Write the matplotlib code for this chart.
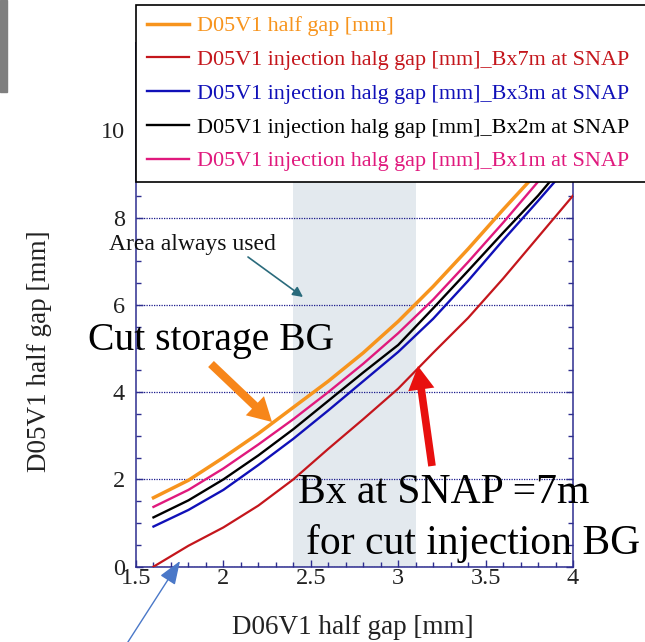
import matplotlib
matplotlib.use("Agg")
import matplotlib.pyplot as plt
from matplotlib.ticker import MultipleLocator, FixedLocator
from matplotlib.patches import Rectangle

# ---- data ----
x_gap = [1.6, 1.8, 2.0, 2.2, 2.4, 2.6, 2.8, 3.0, 3.2, 3.4, 3.6, 3.8, 4.0]
half_gap = [1.58, 1.98, 2.50, 3.05, 3.65, 4.25, 4.90, 5.62, 6.42, 7.28, 8.18, 9.05, 10.00]
inj_bx7 = [0.00, 0.48, 0.90, 1.40, 2.00, 2.70, 3.38, 4.08, 4.90, 5.70, 6.60, 7.55, 8.50]
inj_bx3 = [0.92, 1.30, 1.76, 2.33, 2.93, 3.58, 4.25, 4.92, 5.68, 6.55, 7.48, 8.38, 9.30]
inj_bx2 = [1.13, 1.52, 2.00, 2.55, 3.15, 3.80, 4.45, 5.08, 5.92, 6.78, 7.65, 8.50, 9.45]
inj_bx1 = [1.37, 1.76, 2.25, 2.80, 3.38, 4.00, 4.65, 5.35, 6.12, 6.98, 7.88, 8.82, 9.78]
area_used = [2.4, 3.1]
x_ticks = [1.5, 2.0, 2.5, 3.0, 3.5, 4.0]
x_tick_labels = ["1.5", "2", "2.5", "3", "3.5", "4"]
y_ticks = [0, 2, 4, 6, 8, 10]
labels = ["D05V1 half gap [mm]",
          "D05V1 injection halg gap [mm]_Bx7m at SNAP",
          "D05V1 injection halg gap [mm]_Bx3m at SNAP",
          "D05V1 injection halg gap [mm]_Bx2m at SNAP",
          "D05V1 injection halg gap [mm]_Bx1m at SNAP"]

W, H = 645, 642
SERIF = ["Liberation Serif", "DejaVu Serif"]
plt.rcParams['font.family'] = SERIF

def fp(x, y):
    return (x / W, 1 - y / H)

fig = plt.figure(figsize=(W / 100, H / 100), dpi=100)
ax_left, ax_right = 136 / W, 573 / W
y0_px, per_unit = 566.7, 43.65
ylim_top = 12.0
top_px = y0_px - ylim_top * per_unit
ax = fig.add_axes([ax_left, 1 - y0_px / H, ax_right - ax_left, (y0_px - top_px) / H])

navy = "#2e2e8f"
ax.axvspan(area_used[0], area_used[1], color="#e3e9ee", zorder=0, lw=0)

ax.plot(x_gap, inj_bx7, color="#c4161c", lw=1.6, label=labels[1], zorder=3)
ax.plot(x_gap, inj_bx3, color="#1010b8", lw=1.7, label=labels[2], zorder=3)
ax.plot(x_gap, inj_bx2, color="#000000", lw=1.7, label=labels[3], zorder=3)
ax.plot(x_gap, inj_bx1, color="#e0197d", lw=1.7, label=labels[4], zorder=3)
ax.plot(x_gap, half_gap, color="#f7941d", lw=2.5, label=labels[0], zorder=3)

ax.set_xlim(1.5, 4.0)
ax.set_ylim(0, ylim_top)
ax.xaxis.set_major_locator(FixedLocator(x_ticks))
ax.set_xticklabels(x_tick_labels)
ax.xaxis.set_minor_locator(MultipleLocator(0.1))
ax.yaxis.set_major_locator(FixedLocator(y_ticks))
ax.yaxis.set_minor_locator(MultipleLocator(0.5))
ax.tick_params(which="both", direction="in", color=navy, top=True, right=True, width=1)
ax.tick_params(which="major", length=5, labelsize=17.5, labelcolor="#222222")
ax.tick_params(which="minor", length=3.5)
ax.tick_params(axis="x", pad=1)
ax.tick_params(axis="y", pad=8)
for s in ax.spines.values():
    s.set_color(navy)
    s.set_linewidth(1.1)
ax.yaxis.grid(True, which="major", linestyle=(0, (1, 1)), color="#1a1a8c", lw=0.9)
ax.set_axisbelow(False)

fig.text(*fp(353, 628), "D06V1 half gap [mm]", ha="center", va="center", fontsize=19.5, color="#222222")
fig.text(*fp(40, 351), "D05V1 half gap [mm]", ha="center", va="center", rotation=90, fontsize=19.5, color="#222222")

# legend
handles, labs = ax.get_legend_handles_labels()
order = [4, 0, 1, 2, 3]
leg = fig.legend([handles[i] for i in order], [labs[i] for i in order],
                 loc="upper left", bbox_to_anchor=(136 / W, 1 - 178 / H, 1.0, 173 / H),
                 mode="expand", borderaxespad=0, prop=dict(family=SERIF, size=15.9),
                 labelcolor="linecolor",
                 frameon=True, fancybox=False, edgecolor="black", framealpha=1,
                 handlelength=1.9, handletextpad=0.36, borderpad=0.5, labelspacing=0.6)
leg.get_frame().set_linewidth(1.2)
leg.set_zorder(10)

# gray bar top-left
fig.patches.append(Rectangle(fp(0, 92), 7 / W, 92 / H, transform=fig.transFigure,
                             color="#7f7f7f", zorder=11))

# annotations
fig.text(*fp(109, 250), "Area always used", ha="left", va="baseline", fontsize=17, color="#111111", zorder=12)
ax.annotate("", xy=fp(303, 297), xytext=fp(248, 257), xycoords="figure fraction", textcoords="figure fraction",
            arrowprops=dict(arrowstyle="-|>,head_length=0.5,head_width=0.25", color="#2a6b7c", lw=1.2,
                            mutation_scale=12, shrinkA=0, shrinkB=0), zorder=12)
fig.text(*fp(88, 350), "Cut storage BG", ha="left", va="baseline", fontsize=28.5, color="black", zorder=12)
ax.annotate("", xy=fp(272, 422), xytext=fp(211, 364), xycoords="figure fraction", textcoords="figure fraction",
            arrowprops=dict(arrowstyle="simple,head_length=1.7,head_width=1.9,tail_width=0.6",
                            fc="#f7861a", ec="none", mutation_scale=10, shrinkA=0, shrinkB=0), zorder=12)
fig.text(*fp(298, 503), "Bx at SNAP =7m", ha="left", va="baseline", fontsize=30, color="black", zorder=12)
fig.text(*fp(306, 554), "for cut injection BG", ha="left", va="baseline", fontsize=30, color="black", zorder=12)
ax.annotate("", xy=fp(418, 366), xytext=fp(432, 466), xycoords="figure fraction", textcoords="figure fraction",
            arrowprops=dict(arrowstyle="simple,head_length=1.7,head_width=1.9,tail_width=0.55",
                            fc="#e8100f", ec="none", mutation_scale=10, shrinkA=0, shrinkB=0), zorder=12)
ax.annotate("", xy=fp(180, 561), xytext=fp(126, 645), xycoords="figure fraction", textcoords="figure fraction",
            arrowprops=dict(arrowstyle="-|>,head_length=1.2,head_width=0.45", color="#4a78c8", lw=1.0,
                            mutation_scale=12, shrinkA=0, shrinkB=0), zorder=12, annotation_clip=False)

fig.savefig("out.png", dpi=100)
